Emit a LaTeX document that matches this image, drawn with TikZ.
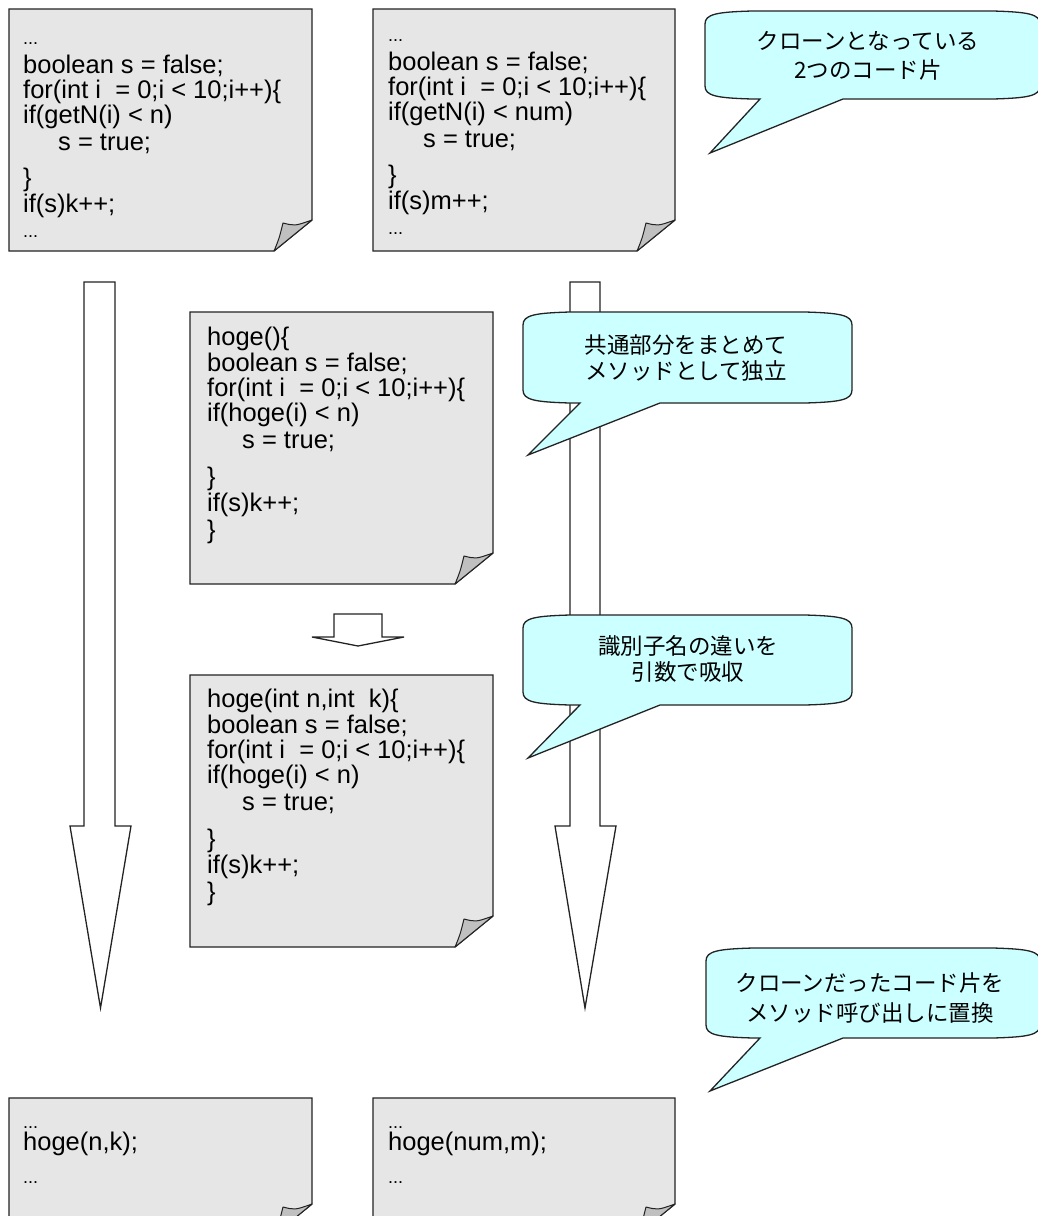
\documentclass[tikz,border=0pt]{standalone}
\usepackage{fontspec}
\setmainfont{Liberation Sans}
\newfontfamily\cjk{Noto Sans CJK JP}
\definecolor{linecol}{RGB}{35,35,35}
\definecolor{notegray}{RGB}{230,230,230}
\definecolor{flapgray}{RGB}{192,192,192}
\definecolor{callcyan}{RGB}{204,255,255}
\tikzset{
  notebody/.style={draw=linecol, fill=notegray, line width=1.3pt, line join=miter},
  noteflap/.style={draw=linecol, fill=flapgray, line width=1pt, line join=round},
  blockarrow/.style={draw=linecol, fill=white, line width=1.3pt, line join=miter},
  callbody/.style={draw=linecol, fill=callcyan, line width=1.3pt, line join=miter},
  codetext/.style={anchor=base west, inner sep=0pt, font=\fontsize{25.5}{25}\selectfont},
  calltext/.style={inner sep=0pt, align=center},
}
% note: left, top, right, bottom
\newcommand\notebox[4]{%
  \filldraw[notebody] (#1,#2) -- (#3,#2) -- (#3,#4-31) -- (#3-38,#4) -- (#1,#4) -- cycle;
  \filldraw[noteflap] (#3-38,#4) .. controls (#3-33,#4-12) .. (#3-29,#4-28)
     .. controls (#3-17,#4-25) .. (#3,#4-31) -- cycle;}
% callout: left, top, right, bottom, tail base 1, tail base 2, tip x, tip y
\newcommand\calloutshape[8]{%
  \filldraw[callbody] (#1,#2+13) .. controls (#1,#2+3) and (#1+12,#2+1) .. (#1+47,#2)
    -- (#3-47,#2) .. controls (#3-12,#2+1) and (#3,#2+3) .. (#3,#2+13)
    -- (#3,#4-13) .. controls (#3,#4-3) and (#3-12,#4-1) .. (#3-47,#4)
    -- (#6,#4) -- (#7,#8) -- (#5,#4)
    -- (#1+47,#4) .. controls (#1+12,#4-1) and (#1,#4-3) .. (#1,#4-13) -- cycle;}
\newcommand\smalldots{{\fontsize{18}{25}\selectfont ...}}
\newcommand\ind{\hspace*{35pt}}
\begin{document}
\begin{tikzpicture}[x=1pt,y=-1pt]
\useasboundingbox (0,0) rectangle (1038,1216);
\fill[white] (0,0) rectangle (1038,1216);
\clip (0,0) rectangle (1038,1216);

% notes
\notebox{9}{9}{312}{251}
\notebox{373}{9}{675}{251}
\notebox{190}{312}{493}{584}
\notebox{190}{675}{493}{947}
\notebox{9}{1098}{312}{1235}
\notebox{373}{1098}{675}{1235}

\node[codetext] (t1) at (23,44) {\parbox[t]{290pt}{\smalldots\\[4pt]
boolean s = false;\\
for(int i\ \ = 0;i < 10;i++)\{\\
if(getN(i) < n)\\[2pt]
\ind s = true;\\[11pt]
\}\\[1pt]
if(s)k++;\\
\smalldots}};

\node[codetext] (t2) at (388,41) {\parbox[t]{290pt}{\smalldots\\[4pt]
boolean s = false;\\
for(int i\ \ = 0;i < 10;i++)\{\\
if(getN(i) < num)\\[2pt]
\ind s = true;\\[11pt]
\}\\[1pt]
if(s)m++;\\
\smalldots}};

\node[codetext] (m1) at (207,345) {\parbox[t]{290pt}{hoge()\{\\[1pt]
boolean s = false;\\
for(int i\ \ = 0;i < 10;i++)\{\\
if(hoge(i) < n)\\[2pt]
\ind s = true;\\[12pt]
\}\\[1pt]
if(s)k++;\\[2pt]
\}}};

\node[codetext] (m2) at (207,707) {\parbox[t]{290pt}{hoge(int n,int\ \ k)\{\\[1pt]
boolean s = false;\\
for(int i\ \ = 0;i < 10;i++)\{\\
if(hoge(i) < n)\\[2pt]
\ind s = true;\\[12pt]
\}\\[1pt]
if(s)k++;\\[2pt]
\}}};

\node[codetext] (b1) at (23,1128) {\parbox[t]{290pt}{\smalldots\\[-3pt]
hoge(n,k);\\[8pt]
\smalldots}};

\node[codetext] (b2) at (388,1128) {\parbox[t]{290pt}{\smalldots\\[-3pt]
hoge(num,m);\\[8pt]
\smalldots}};

% block arrows
\filldraw[blockarrow] (84,282) -- (115,282) -- (115,826) -- (131,826) -- (100.5,1008)
  -- (70,826) -- (84,826) -- cycle;
\filldraw[blockarrow] (570,282) -- (600,282) -- (600,826) -- (616,826) -- (585,1008)
  -- (555,826) -- (570,826) -- cycle;
\filldraw[blockarrow] (334,614) -- (382,614) -- (382,637) -- (404,637) -- (358,646)
  -- (312,637) -- (334,637) -- cycle;

% callouts
\calloutshape{705}{11}{1040}{99}{760}{843}{710}{153}
\node[calltext, font=\cjk\fontsize{22.5}{29.5}\selectfont] (c1) at (868,56)
  {クローンとなっている\\2つのコード片};

\calloutshape{523}{312}{852}{403}{580}{660}{528}{455}
\node[calltext, font=\cjk\fontsize{22.5}{26}\selectfont] (c2) at (686,358)
  {共通部分をまとめて\\メソッドとして独立};

\calloutshape{523}{615}{852}{705}{580}{660}{528}{758}
\node[calltext, font=\cjk\fontsize{22.5}{26.5}\selectfont] (c3) at (688,659)
  {識別子名の違いを\\引数で吸収};

\calloutshape{706}{948}{1040}{1038}{760}{843}{710}{1091}
\node[calltext, font=\cjk\fontsize{22.5}{30}\selectfont] (c4) at (870,998)
  {クローンだったコード片を\\メソッド呼び出しに置換};
\end{tikzpicture}
\end{document}
